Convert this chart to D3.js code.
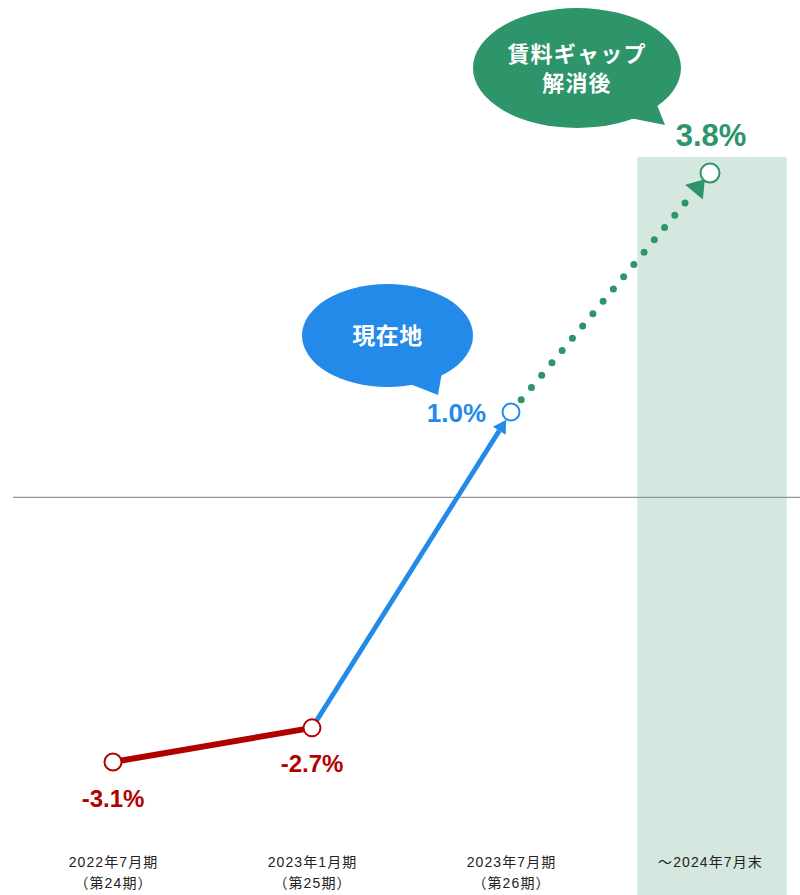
<!DOCTYPE html>
<html lang="ja">
<head>
<meta charset="utf-8">
<script src="https://cdn.jsdelivr.net/npm/d3@7"></script>
<style>
  html, body { margin: 0; padding: 0; background: #fff; }
  svg { display: block; }
  .num { font-family: "Liberation Sans", Arial, sans-serif; font-weight: bold; }
  .jp { font-family: "Noto Sans CJK JP", "Liberation Sans", sans-serif; }
</style>
</head>
<body>
<svg id="chart" width="800" height="895"></svg>
<script>
// Rent change by fiscal period
const categories = ["2022年7月期", "2023年1月期", "2023年7月期", "～2024年7月末"];
const periods = ["（第24期）", "（第25期）", "（第26期）", ""];
const values = [-3.1, -2.7, 1.0, 3.8];
const valueLabels = ["-3.1%", "-2.7%", "1.0%", "3.8%"];
const bubbleTexts = { current: ["現在地"], target: ["賃料ギャップ", "解消後"] };

const RED = "#b20000", BLUE = "#238aea", GREEN = "#2e946a", BAND = "#d5e8df";

const W = 800, H = 895;
const svg = d3.select("#chart");

const x = d3.scalePoint().domain(categories).range([113, 710]);
const y = d3.scaleLinear().domain([d3.min(values), d3.max(values)]).range([762, 173]);

const pts = categories.map((c, i) => ({ c, v: values[i], x: x(c), y: y(values[i]) }));
const step = x.step();

// forecast band behind the last period
svg.append("rect")
  .attr("x", pts[3].x + 2 - step * 0.375)
  .attr("y", y(values[3]) - 16)
  .attr("width", step * 0.75)
  .attr("height", H - (y(values[3]) - 16))
  .attr("fill", BAND);

// zero line
svg.append("line")
  .attr("x1", 13).attr("x2", W)
  .attr("y1", y(0)).attr("y2", y(0))
  .attr("stroke", "#959595").attr("stroke-width", 1.2);

function unit(a, b) {
  const dx = b.x - a.x, dy = b.y - a.y, L = Math.hypot(dx, dy);
  return { ux: dx / L, uy: dy / L, L };
}
// triangle whose tip sits tipBack px before `to`, along from->to
function arrow(from, to, tipBack, len, width) {
  const { ux, uy } = unit(from, to);
  const tip = { x: to.x - ux * tipBack, y: to.y - uy * tipBack };
  const base = { x: tip.x - ux * len, y: tip.y - uy * len };
  const px = -uy, py = ux;
  return {
    base,
    d: `M${tip.x},${tip.y}L${base.x + px * width / 2},${base.y + py * width / 2}L${base.x - px * width / 2},${base.y - py * width / 2}Z`
  };
}

// red segment
svg.append("line")
  .attr("x1", pts[0].x).attr("y1", pts[0].y)
  .attr("x2", pts[1].x).attr("y2", pts[1].y)
  .attr("stroke", RED).attr("stroke-width", 6);

// blue segment with arrowhead
const blueArrow = arrow(pts[1], pts[2], 9, 13, 15);
svg.append("line")
  .attr("x1", pts[1].x).attr("y1", pts[1].y)
  .attr("x2", blueArrow.base.x).attr("y2", blueArrow.base.y)
  .attr("stroke", BLUE).attr("stroke-width", 4.8);
svg.append("path").attr("d", blueArrow.d).attr("fill", BLUE);

// green dotted projection with arrowhead
const greenArrow = arrow(pts[2], pts[3], 8, 17, 23);
svg.append("line")
  .attr("x1", pts[2].x).attr("y1", pts[2].y)
  .attr("x2", greenArrow.base.x).attr("y2", greenArrow.base.y)
  .attr("stroke", GREEN).attr("stroke-width", 7)
  .attr("stroke-linecap", "round")
  .attr("stroke-dasharray", "0 16");
svg.append("path").attr("d", greenArrow.d).attr("fill", GREEN);

// point markers
const markerColor = [RED, RED, BLUE, GREEN];
const markerR = [8.5, 8.5, 8.5, 9.5];
svg.selectAll("circle.pt").data(pts).join("circle")
  .attr("class", "pt")
  .attr("cx", d => d.x).attr("cy", d => d.y)
  .attr("r", (d, i) => markerR[i])
  .attr("fill", "#fff")
  .attr("stroke", (d, i) => markerColor[i])
  .attr("stroke-width", 2);

// value labels
const labelSpec = [
  { dx: 0, dy: 45, anchor: "middle", size: 24, color: RED },
  { dx: 0, dy: 44, anchor: "middle", size: 24, color: RED },
  { dx: -25, dy: 10, anchor: "end", size: 26, color: BLUE },
  { dx: 1, dy: -27, anchor: "middle", size: 31, color: GREEN }
];
svg.selectAll("text.val").data(pts).join("text")
  .attr("class", "val num")
  .attr("x", (d, i) => d.x + labelSpec[i].dx)
  .attr("y", (d, i) => d.y + labelSpec[i].dy)
  .attr("text-anchor", (d, i) => labelSpec[i].anchor)
  .attr("font-size", (d, i) => labelSpec[i].size)
  .attr("fill", (d, i) => labelSpec[i].color)
  .text((d, i) => valueLabels[i]);

// speech bubbles (ellipse + tail pointing at the marker)
function bubble(anchor, cfg) {
  const cx = anchor.x + cfg.cx, cy = anchor.y + cfg.cy;
  const g = svg.append("g");
  g.append("ellipse").attr("cx", cx).attr("cy", cy)
    .attr("rx", cfg.rx).attr("ry", cfg.ry).attr("fill", cfg.color);
  g.append("path")
    .attr("d", d3.line()(cfg.tail.map(p => [anchor.x + p[0], anchor.y + p[1]])) + "Z")
    .attr("fill", cfg.color);
  cfg.lines.forEach((s, i) => {
    g.append("text").attr("class", "jp")
      .attr("x", cx + cfg.tx).attr("y", cy + cfg.ty + i * cfg.lh)
      .attr("text-anchor", "middle")
      .attr("fill", "#fff").attr("font-weight", "bold")
      .attr("font-size", cfg.size).attr("letter-spacing", cfg.ls)
      .text(s);
  });
}

bubble(pts[2], {
  cx: -123.5, cy: -76.5, rx: 85.5, ry: 51.5, color: BLUE,
  tail: [[-69, -40], [-73, -17], [-101, -28]],
  lines: bubbleTexts.current, size: 23, ls: 0.5, tx: 0, ty: 8, lh: 0
});
bubble(pts[3], {
  cx: -133, cy: -105, rx: 104, ry: 60, color: GREEN,
  tail: [[-55, -73], [-45, -48], [-80, -55]],
  lines: bubbleTexts.target, size: 22, ls: 1.2, tx: 0, ty: -6, lh: 29
});

// category axis with two-line labels
const axis = svg.append("g")
  .attr("transform", "translate(0,867)")
  .call(d3.axisBottom(x).tickSize(0).tickPadding(0));
axis.select(".domain").remove();
axis.selectAll(".tick text")
  .attr("y", 0).attr("dy", 0)
  .attr("fill", "#222")
  .attr("font-size", 14)
  .attr("font-family", "'Liberation Sans', 'Noto Sans CJK JP', sans-serif")
  .attr("letter-spacing", 1.1)
  .text(null)
  .each(function (d, i) {
    const t = d3.select(this);
    t.append("tspan").attr("x", 0).attr("y", 0).text(categories[i]);
    if (periods[i]) t.append("tspan").attr("x", 0).attr("y", 21).text(periods[i]);
  });
</script>
</body>
</html>
